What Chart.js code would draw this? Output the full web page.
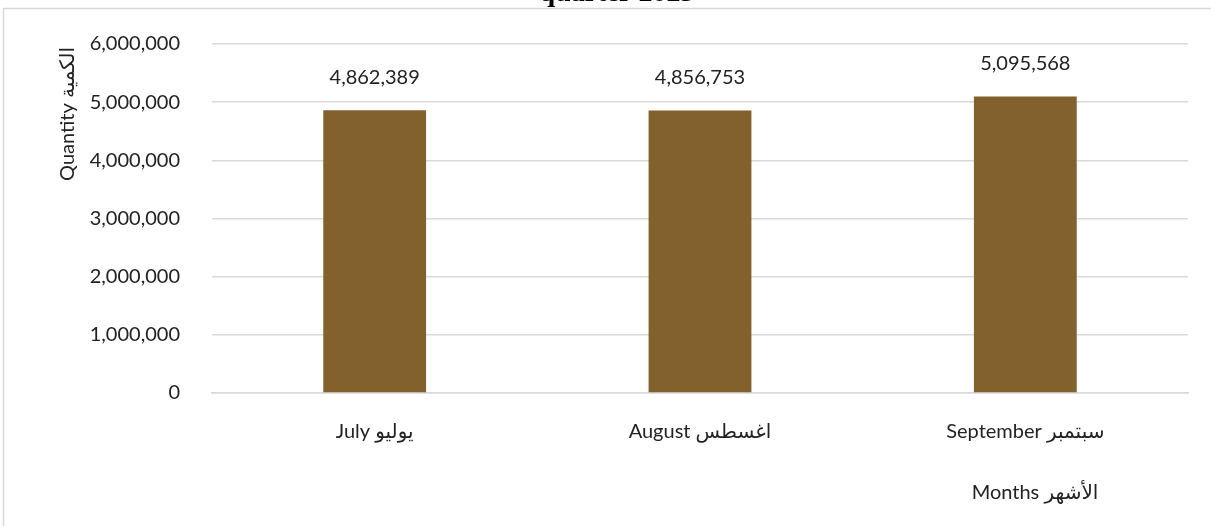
<!DOCTYPE html>
<html>
<head>
<meta charset="utf-8">
<script src="https://cdn.jsdelivr.net/npm/chart.js@4.4.0/dist/chart.umd.min.js"></script>
<style>
  html, body { margin: 0; padding: 0; background: #fff; }
  #wrap { position: relative; width: 1211px; height: 526px; }
</style>
</head>
<body>
<div id="wrap">
  <canvas id="monthChart" width="1211" height="526"></canvas>
</div>
<script>
/* ================================
   Data
================================ */
const months = ["July يوليو", "August اغسطس", "September سبتمبر"];
const quantities = [4862389, 4856753, 5095568];
const yTicks = [0, 1000000, 2000000, 3000000, 4000000, 5000000, 6000000];

const titleText = "quarter 2023";
const yTitleText = "Quantity الكمية";
const xTitleText = "Months الأشهر";

/* ================================
   Styles
================================ */
const BAR_COLOR = "rgb(130,97,44)";
const GRID_COLOR = "#d9d9d9";
const TEXT_COLOR = "#222";
const FONT = "Lato, 'DejaVu Sans', sans-serif";

const fmt = v => Number(v).toLocaleString("en-US");

/* ================================
   Plugins
================================ */
// frame + titles drawn by hand (title is clipped at the top in the original)
const decorPlugin = {
  id: "decor",
  beforeDraw(chart) {
    const ctx = chart.ctx;
    ctx.save();
    ctx.strokeStyle = GRID_COLOR;
    ctx.lineWidth = 1.5;
    ctx.beginPath();
    ctx.moveTo(3.5, chart.height + 5);
    ctx.lineTo(3.5, 8.5);
    ctx.lineTo(chart.width + 5, 8.5);
    ctx.stroke();
    ctx.restore();
  },
  afterDraw(chart) {
    const ctx = chart.ctx;
    ctx.save();
    ctx.fillStyle = "#000";
    ctx.font = "bold 28px 'Liberation Serif', 'Times New Roman', serif";
    ctx.textAlign = "center";
    ctx.textBaseline = "alphabetic";
    ctx.fillText(titleText, 617, 1);

    ctx.fillStyle = TEXT_COLOR;
    ctx.font = "20px " + FONT;
    ctx.textBaseline = "middle";
    ctx.fillText(xTitleText, 1035, 493);

    ctx.translate(68, 114);
    ctx.rotate(-Math.PI / 2);
    ctx.fillText(yTitleText, 0, 0);
    ctx.restore();
  }
};

// value labels above each bar
const valueLabelPlugin = {
  id: "valueLabels",
  afterDatasetsDraw(chart) {
    const ctx = chart.ctx;
    const meta = chart.getDatasetMeta(0);
    ctx.save();
    ctx.fillStyle = TEXT_COLOR;
    ctx.font = "20px " + FONT;
    ctx.textAlign = "center";
    ctx.textBaseline = "middle";
    meta.data.forEach((bar, i) => {
      ctx.fillText(fmt(quantities[i]), bar.x, bar.y - 33);
    });
    ctx.restore();
  }
};

/* ================================
   Chart
================================ */
new Chart(document.getElementById("monthChart"), {
  type: "bar",
  data: {
    labels: months,
    datasets: [{
      data: quantities,
      backgroundColor: BAR_COLOR,
      borderWidth: 0,
      categoryPercentage: 1,
      barPercentage: 0.316
    }]
  },
  options: {
    responsive: false,
    animation: false,
    layout: {
      padding: { top: 42, right: 23, left: 0, bottom: 0 }
    },
    plugins: {
      legend: { display: false },
      tooltip: { enabled: false }
    },
    scales: {
      x: {
        grid: { display: false, drawTicks: false },
        border: { display: true, color: GRID_COLOR, width: 1.5 },
        ticks: {
          color: TEXT_COLOR,
          font: { family: FONT, size: 20 },
          padding: 27,
          maxRotation: 0
        },
        afterFit(scale) { scale.height = 133; }
      },
      y: {
        min: 0,
        max: 6000000,
        grid: { color: GRID_COLOR, lineWidth: 1.5, drawTicks: false },
        border: { display: false },
        afterBuildTicks(scale) {
          scale.ticks = yTicks.map(v => ({ value: v }));
        },
        ticks: {
          color: TEXT_COLOR,
          font: { family: FONT, size: 20 },
          padding: 32,
          callback: v => fmt(v)
        },
        afterFit(scale) { scale.width = 212; }
      }
    }
  },
  plugins: [decorPlugin, valueLabelPlugin]
});
</script>
</body>
</html>
